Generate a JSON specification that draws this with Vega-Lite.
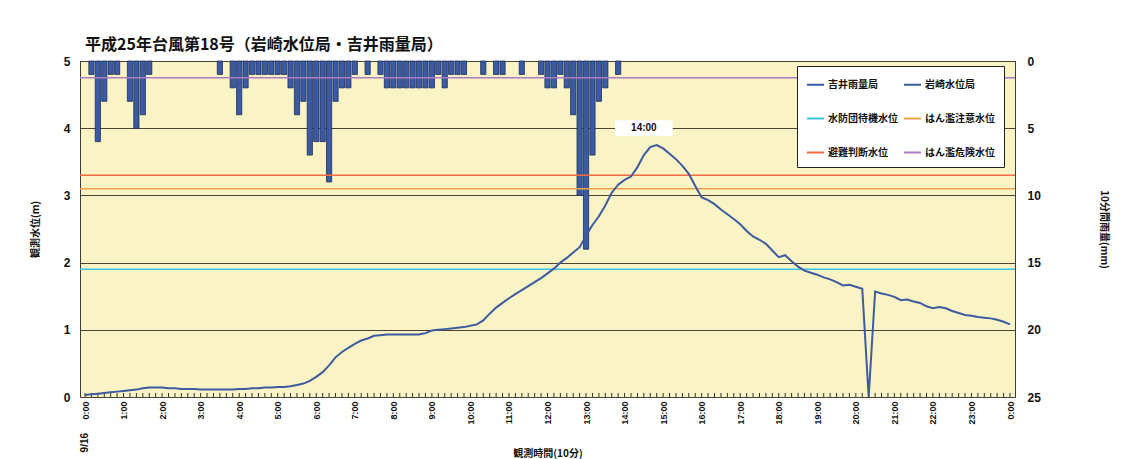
{
  "$schema": "https://vega.github.io/schema/vega-lite/v6.json",
  "width": 935,
  "height": 336,
  "autosize": {"type": "none"},
  "padding": {"left": 80, "top": 61, "right": 124, "bottom": 62},
  "background": "white",
  "config": {
    "view": {"stroke": "#3a3a3a", "strokeWidth": 1, "fill": "#f9f3c6"},
    "font": "Noto Sans CJK JP",
    "axisX": {
      "format": "%-H:%M",
      "labelAngle": -90, "labelAlign": "right", "labelBaseline": "middle",
      "labelFontSize": 9, "labelFontWeight": "bold", "labelFont": "Liberation Sans", "labelColor": "#111111",
      "labelPadding": 4, "labelOverlap": false, "labelFlush": false, "labelBound": false,
      "ticks": false, "domain": false, "grid": false,
      "titleFontSize": 10, "titleFontWeight": "bold", "titleFont": "Noto Sans CJK JP",
      "titleColor": "#111111", "titleY": 56, "titleBaseline": "middle"
    }
  },
  "title": {
    "text": "平成25年台風第18号（岩崎水位局・吉井雨量局）",
    "anchor": "start",
    "frame": "group",
    "fontSize": 16,
    "font": "Noto Sans CJK JP",
    "fontWeight": "bold",
    "color": "#111111",
    "dx": 5,
    "offset": 2
  },
  "datasets": {
    "rain": [
      {"t": "2013-09-16T00:10", "mm": 1, "series": "吉井雨量局"},
      {"t": "2013-09-16T00:20", "mm": 6, "series": "吉井雨量局"},
      {"t": "2013-09-16T00:30", "mm": 3, "series": "吉井雨量局"},
      {"t": "2013-09-16T00:40", "mm": 1, "series": "吉井雨量局"},
      {"t": "2013-09-16T00:50", "mm": 1, "series": "吉井雨量局"},
      {"t": "2013-09-16T01:10", "mm": 3, "series": "吉井雨量局"},
      {"t": "2013-09-16T01:20", "mm": 5, "series": "吉井雨量局"},
      {"t": "2013-09-16T01:30", "mm": 4, "series": "吉井雨量局"},
      {"t": "2013-09-16T01:40", "mm": 1, "series": "吉井雨量局"},
      {"t": "2013-09-16T03:30", "mm": 1, "series": "吉井雨量局"},
      {"t": "2013-09-16T03:50", "mm": 2, "series": "吉井雨量局"},
      {"t": "2013-09-16T04:00", "mm": 4, "series": "吉井雨量局"},
      {"t": "2013-09-16T04:10", "mm": 2, "series": "吉井雨量局"},
      {"t": "2013-09-16T04:20", "mm": 1, "series": "吉井雨量局"},
      {"t": "2013-09-16T04:30", "mm": 1, "series": "吉井雨量局"},
      {"t": "2013-09-16T04:40", "mm": 1, "series": "吉井雨量局"},
      {"t": "2013-09-16T04:50", "mm": 1, "series": "吉井雨量局"},
      {"t": "2013-09-16T05:00", "mm": 1, "series": "吉井雨量局"},
      {"t": "2013-09-16T05:10", "mm": 1, "series": "吉井雨量局"},
      {"t": "2013-09-16T05:20", "mm": 2, "series": "吉井雨量局"},
      {"t": "2013-09-16T05:30", "mm": 4, "series": "吉井雨量局"},
      {"t": "2013-09-16T05:40", "mm": 3, "series": "吉井雨量局"},
      {"t": "2013-09-16T05:50", "mm": 7, "series": "吉井雨量局"},
      {"t": "2013-09-16T06:00", "mm": 6, "series": "吉井雨量局"},
      {"t": "2013-09-16T06:10", "mm": 6, "series": "吉井雨量局"},
      {"t": "2013-09-16T06:20", "mm": 9, "series": "吉井雨量局"},
      {"t": "2013-09-16T06:30", "mm": 3, "series": "吉井雨量局"},
      {"t": "2013-09-16T06:40", "mm": 2, "series": "吉井雨量局"},
      {"t": "2013-09-16T06:50", "mm": 2, "series": "吉井雨量局"},
      {"t": "2013-09-16T07:00", "mm": 1, "series": "吉井雨量局"},
      {"t": "2013-09-16T07:20", "mm": 1, "series": "吉井雨量局"},
      {"t": "2013-09-16T07:40", "mm": 1, "series": "吉井雨量局"},
      {"t": "2013-09-16T07:50", "mm": 2, "series": "吉井雨量局"},
      {"t": "2013-09-16T08:00", "mm": 2, "series": "吉井雨量局"},
      {"t": "2013-09-16T08:10", "mm": 2, "series": "吉井雨量局"},
      {"t": "2013-09-16T08:20", "mm": 2, "series": "吉井雨量局"},
      {"t": "2013-09-16T08:30", "mm": 2, "series": "吉井雨量局"},
      {"t": "2013-09-16T08:40", "mm": 2, "series": "吉井雨量局"},
      {"t": "2013-09-16T08:50", "mm": 2, "series": "吉井雨量局"},
      {"t": "2013-09-16T09:00", "mm": 2, "series": "吉井雨量局"},
      {"t": "2013-09-16T09:10", "mm": 1, "series": "吉井雨量局"},
      {"t": "2013-09-16T09:20", "mm": 2, "series": "吉井雨量局"},
      {"t": "2013-09-16T09:30", "mm": 1, "series": "吉井雨量局"},
      {"t": "2013-09-16T09:40", "mm": 1, "series": "吉井雨量局"},
      {"t": "2013-09-16T09:50", "mm": 1, "series": "吉井雨量局"},
      {"t": "2013-09-16T10:20", "mm": 1, "series": "吉井雨量局"},
      {"t": "2013-09-16T10:40", "mm": 1, "series": "吉井雨量局"},
      {"t": "2013-09-16T10:50", "mm": 1, "series": "吉井雨量局"},
      {"t": "2013-09-16T11:20", "mm": 1, "series": "吉井雨量局"},
      {"t": "2013-09-16T11:50", "mm": 1, "series": "吉井雨量局"},
      {"t": "2013-09-16T12:00", "mm": 2, "series": "吉井雨量局"},
      {"t": "2013-09-16T12:10", "mm": 2, "series": "吉井雨量局"},
      {"t": "2013-09-16T12:20", "mm": 1, "series": "吉井雨量局"},
      {"t": "2013-09-16T12:30", "mm": 2, "series": "吉井雨量局"},
      {"t": "2013-09-16T12:40", "mm": 4, "series": "吉井雨量局"},
      {"t": "2013-09-16T12:50", "mm": 10, "series": "吉井雨量局"},
      {"t": "2013-09-16T13:00", "mm": 14, "series": "吉井雨量局"},
      {"t": "2013-09-16T13:10", "mm": 7, "series": "吉井雨量局"},
      {"t": "2013-09-16T13:20", "mm": 3, "series": "吉井雨量局"},
      {"t": "2013-09-16T13:30", "mm": 2, "series": "吉井雨量局"},
      {"t": "2013-09-16T13:50", "mm": 1, "series": "吉井雨量局"}
    ],
    "level": [
      {"t": "2013-09-16T00:00", "m": 0.03}, {"t": "2013-09-16T00:10", "m": 0.04}, {"t": "2013-09-16T00:20", "m": 0.05},
      {"t": "2013-09-16T00:30", "m": 0.06}, {"t": "2013-09-16T00:40", "m": 0.07}, {"t": "2013-09-16T00:50", "m": 0.08},
      {"t": "2013-09-16T01:00", "m": 0.09}, {"t": "2013-09-16T01:10", "m": 0.10}, {"t": "2013-09-16T01:20", "m": 0.11},
      {"t": "2013-09-16T01:30", "m": 0.13}, {"t": "2013-09-16T01:40", "m": 0.14}, {"t": "2013-09-16T01:50", "m": 0.14},
      {"t": "2013-09-16T02:00", "m": 0.14}, {"t": "2013-09-16T02:10", "m": 0.13}, {"t": "2013-09-16T02:20", "m": 0.13},
      {"t": "2013-09-16T02:30", "m": 0.12}, {"t": "2013-09-16T02:40", "m": 0.12}, {"t": "2013-09-16T02:50", "m": 0.12},
      {"t": "2013-09-16T03:00", "m": 0.11}, {"t": "2013-09-16T03:10", "m": 0.11}, {"t": "2013-09-16T03:20", "m": 0.11},
      {"t": "2013-09-16T03:30", "m": 0.11}, {"t": "2013-09-16T03:40", "m": 0.11}, {"t": "2013-09-16T03:50", "m": 0.11},
      {"t": "2013-09-16T04:00", "m": 0.12}, {"t": "2013-09-16T04:10", "m": 0.12}, {"t": "2013-09-16T04:20", "m": 0.13},
      {"t": "2013-09-16T04:30", "m": 0.13}, {"t": "2013-09-16T04:40", "m": 0.14}, {"t": "2013-09-16T04:50", "m": 0.14},
      {"t": "2013-09-16T05:00", "m": 0.15}, {"t": "2013-09-16T05:10", "m": 0.15}, {"t": "2013-09-16T05:20", "m": 0.16},
      {"t": "2013-09-16T05:30", "m": 0.18}, {"t": "2013-09-16T05:40", "m": 0.20}, {"t": "2013-09-16T05:50", "m": 0.24},
      {"t": "2013-09-16T06:00", "m": 0.30}, {"t": "2013-09-16T06:10", "m": 0.37}, {"t": "2013-09-16T06:20", "m": 0.47},
      {"t": "2013-09-16T06:30", "m": 0.59}, {"t": "2013-09-16T06:40", "m": 0.67}, {"t": "2013-09-16T06:50", "m": 0.73},
      {"t": "2013-09-16T07:00", "m": 0.79}, {"t": "2013-09-16T07:10", "m": 0.84}, {"t": "2013-09-16T07:20", "m": 0.87},
      {"t": "2013-09-16T07:30", "m": 0.91}, {"t": "2013-09-16T07:40", "m": 0.92}, {"t": "2013-09-16T07:50", "m": 0.93},
      {"t": "2013-09-16T08:00", "m": 0.93}, {"t": "2013-09-16T08:10", "m": 0.93}, {"t": "2013-09-16T08:20", "m": 0.93},
      {"t": "2013-09-16T08:30", "m": 0.93}, {"t": "2013-09-16T08:40", "m": 0.93}, {"t": "2013-09-16T08:50", "m": 0.95},
      {"t": "2013-09-16T09:00", "m": 0.99}, {"t": "2013-09-16T09:10", "m": 1.00}, {"t": "2013-09-16T09:20", "m": 1.01},
      {"t": "2013-09-16T09:30", "m": 1.02}, {"t": "2013-09-16T09:40", "m": 1.03}, {"t": "2013-09-16T09:50", "m": 1.04},
      {"t": "2013-09-16T10:00", "m": 1.06}, {"t": "2013-09-16T10:10", "m": 1.08}, {"t": "2013-09-16T10:20", "m": 1.14},
      {"t": "2013-09-16T10:30", "m": 1.24}, {"t": "2013-09-16T10:40", "m": 1.33}, {"t": "2013-09-16T10:50", "m": 1.40},
      {"t": "2013-09-16T11:00", "m": 1.47}, {"t": "2013-09-16T11:10", "m": 1.53}, {"t": "2013-09-16T11:20", "m": 1.59},
      {"t": "2013-09-16T11:30", "m": 1.65}, {"t": "2013-09-16T11:40", "m": 1.71}, {"t": "2013-09-16T11:50", "m": 1.77},
      {"t": "2013-09-16T12:00", "m": 1.84}, {"t": "2013-09-16T12:10", "m": 1.91}, {"t": "2013-09-16T12:20", "m": 2.00},
      {"t": "2013-09-16T12:30", "m": 2.07}, {"t": "2013-09-16T12:40", "m": 2.15}, {"t": "2013-09-16T12:50", "m": 2.23},
      {"t": "2013-09-16T13:00", "m": 2.40}, {"t": "2013-09-16T13:10", "m": 2.56}, {"t": "2013-09-16T13:20", "m": 2.69},
      {"t": "2013-09-16T13:30", "m": 2.85}, {"t": "2013-09-16T13:40", "m": 3.04}, {"t": "2013-09-16T13:50", "m": 3.16},
      {"t": "2013-09-16T14:00", "m": 3.23}, {"t": "2013-09-16T14:10", "m": 3.28}, {"t": "2013-09-16T14:20", "m": 3.42},
      {"t": "2013-09-16T14:30", "m": 3.60}, {"t": "2013-09-16T14:40", "m": 3.72}, {"t": "2013-09-16T14:50", "m": 3.75},
      {"t": "2013-09-16T15:00", "m": 3.70}, {"t": "2013-09-16T15:10", "m": 3.62}, {"t": "2013-09-16T15:20", "m": 3.54},
      {"t": "2013-09-16T15:30", "m": 3.44}, {"t": "2013-09-16T15:40", "m": 3.32}, {"t": "2013-09-16T15:50", "m": 3.14},
      {"t": "2013-09-16T16:00", "m": 2.97}, {"t": "2013-09-16T16:10", "m": 2.93}, {"t": "2013-09-16T16:20", "m": 2.87},
      {"t": "2013-09-16T16:30", "m": 2.79}, {"t": "2013-09-16T16:40", "m": 2.72}, {"t": "2013-09-16T16:50", "m": 2.65},
      {"t": "2013-09-16T17:00", "m": 2.57}, {"t": "2013-09-16T17:10", "m": 2.47}, {"t": "2013-09-16T17:20", "m": 2.39},
      {"t": "2013-09-16T17:30", "m": 2.34}, {"t": "2013-09-16T17:40", "m": 2.28}, {"t": "2013-09-16T17:50", "m": 2.18},
      {"t": "2013-09-16T18:00", "m": 2.08}, {"t": "2013-09-16T18:10", "m": 2.11}, {"t": "2013-09-16T18:20", "m": 2.02},
      {"t": "2013-09-16T18:30", "m": 1.94}, {"t": "2013-09-16T18:40", "m": 1.88}, {"t": "2013-09-16T18:50", "m": 1.85},
      {"t": "2013-09-16T19:00", "m": 1.82}, {"t": "2013-09-16T19:10", "m": 1.78}, {"t": "2013-09-16T19:20", "m": 1.75},
      {"t": "2013-09-16T19:30", "m": 1.71}, {"t": "2013-09-16T19:40", "m": 1.66}, {"t": "2013-09-16T19:50", "m": 1.67},
      {"t": "2013-09-16T20:00", "m": 1.64}, {"t": "2013-09-16T20:10", "m": 1.61}, {"t": "2013-09-16T20:20", "m": 0.00},
      {"t": "2013-09-16T20:30", "m": 1.57}, {"t": "2013-09-16T20:40", "m": 1.54}, {"t": "2013-09-16T20:50", "m": 1.52},
      {"t": "2013-09-16T21:00", "m": 1.49}, {"t": "2013-09-16T21:10", "m": 1.44}, {"t": "2013-09-16T21:20", "m": 1.45},
      {"t": "2013-09-16T21:30", "m": 1.42}, {"t": "2013-09-16T21:40", "m": 1.40}, {"t": "2013-09-16T21:50", "m": 1.35},
      {"t": "2013-09-16T22:00", "m": 1.32}, {"t": "2013-09-16T22:10", "m": 1.34}, {"t": "2013-09-16T22:20", "m": 1.32},
      {"t": "2013-09-16T22:30", "m": 1.28}, {"t": "2013-09-16T22:40", "m": 1.25}, {"t": "2013-09-16T22:50", "m": 1.22},
      {"t": "2013-09-16T23:00", "m": 1.21}, {"t": "2013-09-16T23:10", "m": 1.19}, {"t": "2013-09-16T23:20", "m": 1.18},
      {"t": "2013-09-16T23:30", "m": 1.17}, {"t": "2013-09-16T23:40", "m": 1.15}, {"t": "2013-09-16T23:50", "m": 1.12},
      {"t": "2013-09-17T00:00", "m": 1.08}
    ],
    "thresholds": [
      {"name": "水防団待機水位", "m": 1.9},
      {"name": "はん濫注意水位", "m": 3.1},
      {"name": "避難判断水位", "m": 3.3},
      {"name": "はん濫危険水位", "m": 4.75}
    ],
    "annot": [
      {"t": "2013-09-16T14:30", "t1": "2013-09-16T13:45", "t2": "2013-09-16T15:15", "m": 4.0, "m1": 3.88, "m2": 4.12, "label": "14:00"}
    ],
    "datelabel": [
      {"t": "2013-09-16T00:00", "label": "9/16"}
    ]
  },
  "layer": [
    {
      "data": {"name": "rain"},
      "mark": {"type": "bar", "size": 5.2, "stroke": "#1d2d58", "strokeWidth": 0.8},
      "encoding": {
        "x": {
          "field": "t", "type": "temporal",
          "scale": {"domain": [{"year": 2013, "month": 9, "date": 16, "hours": 0}, {"year": 2013, "month": 9, "date": 17, "hours": 0}]},
          "axis": {"title": "観測時間(10分)", "tickCount": 24}
        },
        "y": {
          "field": "mm", "type": "quantitative",
          "scale": {"domain": [0, 25], "reverse": true, "nice": false},
          "axis": {
            "orient": "right", "values": [0, 5, 10, 15, 20, 25], "grid": false, "domain": false, "ticks": false,
            "labelFontSize": 12, "labelFontWeight": "bold", "labelFont": "Liberation Sans", "labelColor": "#111111", "labelPadding": 12,
            "title": "10分間雨量(mm)", "titleFontSize": 10, "titleFontWeight": "bold", "titleFont": "Noto Sans CJK JP", "titleColor": "#111111",
            "titleX": 88, "titleY": 168, "titleAngle": 90, "titleAlign": "center", "titleBaseline": "middle"
          }
        },
        "color": {
          "field": "series", "type": "nominal",
          "scale": {
            "domain": ["吉井雨量局", "水防団待機水位", "避難判断水位", "岩崎水位局", "はん濫注意水位", "はん濫危険水位"],
            "range": ["#3a5aa5", "#3cc4e4", "#f26b3f", "#3d5b9e", "#eea448", "#b07cc0"]
          },
          "legend": {
            "orient": "none", "legendX": 717, "legendY": 5, "columns": 2, "title": null,
            "fillColor": "white", "strokeColor": "#222222", "padding": 9, "rowPadding": 19, "columnPadding": 2,
            "symbolType": "stroke", "symbolSize": 289, "symbolStrokeWidth": 2,
            "labelFontSize": 10, "labelFontWeight": "bold", "labelFont": "Noto Sans CJK JP", "labelColor": "#111111", "labelOffset": 3,
            "encode": {"symbols": {"update": {
              "strokeWidth": {"signal": "datum.value === '吉井雨量局' ? 6 : 2"}
            }}}
          }
        }
      }
    },
    {
      "layer": [
        {
          "data": {"name": "level"},
          "mark": {"type": "rule", "color": "#333333", "strokeWidth": 1},
          "encoding": {
            "x": {"field": "t", "type": "temporal", "axis": {"title": "観測時間(10分)", "tickCount": 24}},
            "y": {"datum": 0, "type": "quantitative", "scale": {"domain": [0, 5], "nice": false}},
            "y2": {"datum": 0.06}
          }
        },
        {
          "data": {"name": "thresholds"},
          "mark": {"type": "rule", "strokeWidth": 1.6},
          "encoding": {
            "y": {"field": "m", "type": "quantitative", "scale": {"domain": [0, 5], "nice": false}},
            "color": {"field": "name", "type": "nominal"}
          }
        },
        {
          "data": {"name": "level"},
          "transform": [{"calculate": "'岩崎水位局'", "as": "series"}],
          "mark": {"type": "line", "strokeWidth": 2},
          "encoding": {
            "x": {"field": "t", "type": "temporal", "axis": {"title": "観測時間(10分)", "tickCount": 24}},
            "y": {
              "field": "m", "type": "quantitative",
              "scale": {"domain": [0, 5], "nice": false},
              "axis": {
                "orient": "left", "values": [0, 1, 2, 3, 4, 5], "format": "d", "grid": true, "gridColor": "#4a4632", "gridWidth": 1,
                "domain": false, "ticks": false,
                "labelFontSize": 12, "labelFontWeight": "bold", "labelFont": "Liberation Sans", "labelColor": "#111111", "labelPadding": 10,
                "title": "観測水位(m)", "titleFontSize": 10, "titleFontWeight": "bold", "titleFont": "Noto Sans CJK JP", "titleColor": "#111111",
                "titleX": -45, "titleY": 168, "titleAngle": -90, "titleAlign": "center", "titleBaseline": "middle"
              }
            },
            "color": {"field": "series", "type": "nominal"}
          }
        },
        {
          "data": {"name": "annot"},
          "mark": {"type": "rect", "fill": "white", "cornerRadius": 3},
          "encoding": {
            "x": {"field": "t1", "type": "temporal", "axis": {"title": "観測時間(10分)", "tickCount": 24}},
            "x2": {"field": "t2"},
            "y": {"field": "m1", "type": "quantitative", "scale": {"domain": [0, 5], "nice": false}},
            "y2": {"field": "m2"}
          }
        },
        {
          "data": {"name": "annot"},
          "mark": {"type": "text", "fontSize": 10, "fontWeight": "bold", "font": "Liberation Sans", "color": "#111111"},
          "encoding": {
            "x": {"field": "t", "type": "temporal", "axis": {"title": "観測時間(10分)", "tickCount": 24}},
            "y": {"field": "m", "type": "quantitative", "scale": {"domain": [0, 5], "nice": false}},
            "text": {"field": "label"}
          }
        },
        {
          "data": {"name": "datelabel"},
          "mark": {"type": "text", "fontSize": 10, "fontWeight": "bold", "font": "Liberation Sans", "color": "#111111", "angle": 270},
          "encoding": {
            "x": {"field": "t", "type": "temporal", "axis": {"title": "観測時間(10分)", "tickCount": 24}},
            "y": {"datum": -0.68, "type": "quantitative", "scale": {"domain": [0, 5], "nice": false}},
            "text": {"field": "label"}
          }
        }
      ]
    }
  ],
  "resolve": {"scale": {"y": "independent"}}
}
